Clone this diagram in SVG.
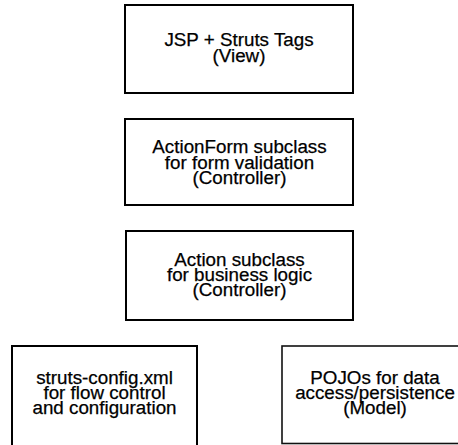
<svg xmlns="http://www.w3.org/2000/svg" width="458" height="445" viewBox="0 0 458 445">
  <style>
    .box { fill: #ffffff; stroke: #000000; stroke-width: 2; }
    .thin { stroke-width: 1.6; stroke: #111111; }
    .label { font-family: "Liberation Sans", Arial, sans-serif; font-size: 18.8px; fill: #000000; stroke: #000000; stroke-width: 0.25; text-anchor: middle; }
  </style>
  <rect width="458" height="445" fill="#ffffff"/>
  <g id="connectors"></g>
  <g id="view">
    <rect class="box" x="125" y="5" width="228" height="88"/>
    <text class="label" x="239" y="45.5">JSP + Struts Tags</text>
    <text class="label" x="239" y="61.5">(View)</text>
  </g>
  <g id="actionform">
    <rect class="box" x="125" y="119" width="228" height="86"/>
    <text class="label" x="239.5" y="153.3">ActionForm subclass</text>
    <text class="label" x="239.5" y="168.6">for form validation</text>
    <text class="label" x="239.5" y="184">(Controller)</text>
  </g>
  <g id="action">
    <rect class="box" x="126" y="231" width="227" height="89"/>
    <text class="label" x="239.5" y="265.7">Action subclass</text>
    <text class="label" x="239.5" y="281">for business logic</text>
    <text class="label" x="239.5" y="296.3">(Controller)</text>
  </g>
  <g id="struts-config">
    <rect class="box" x="12" y="346" width="185" height="110"/>
    <text class="label" x="104.5" y="384.3">struts-config.xml</text>
    <text class="label" x="104.5" y="399.3">for flow control</text>
    <text class="label" x="104.5" y="414.3">and configuration</text>
  </g>
  <g id="pojos">
    <rect class="box thin" x="282" y="346" width="200" height="97.5"/>
    <text class="label" x="375" y="384.3">POJOs for data</text>
    <text class="label" x="375" y="398.8">access/persistence</text>
    <text class="label" x="375" y="413.5">(Model)</text>
  </g>
</svg>
